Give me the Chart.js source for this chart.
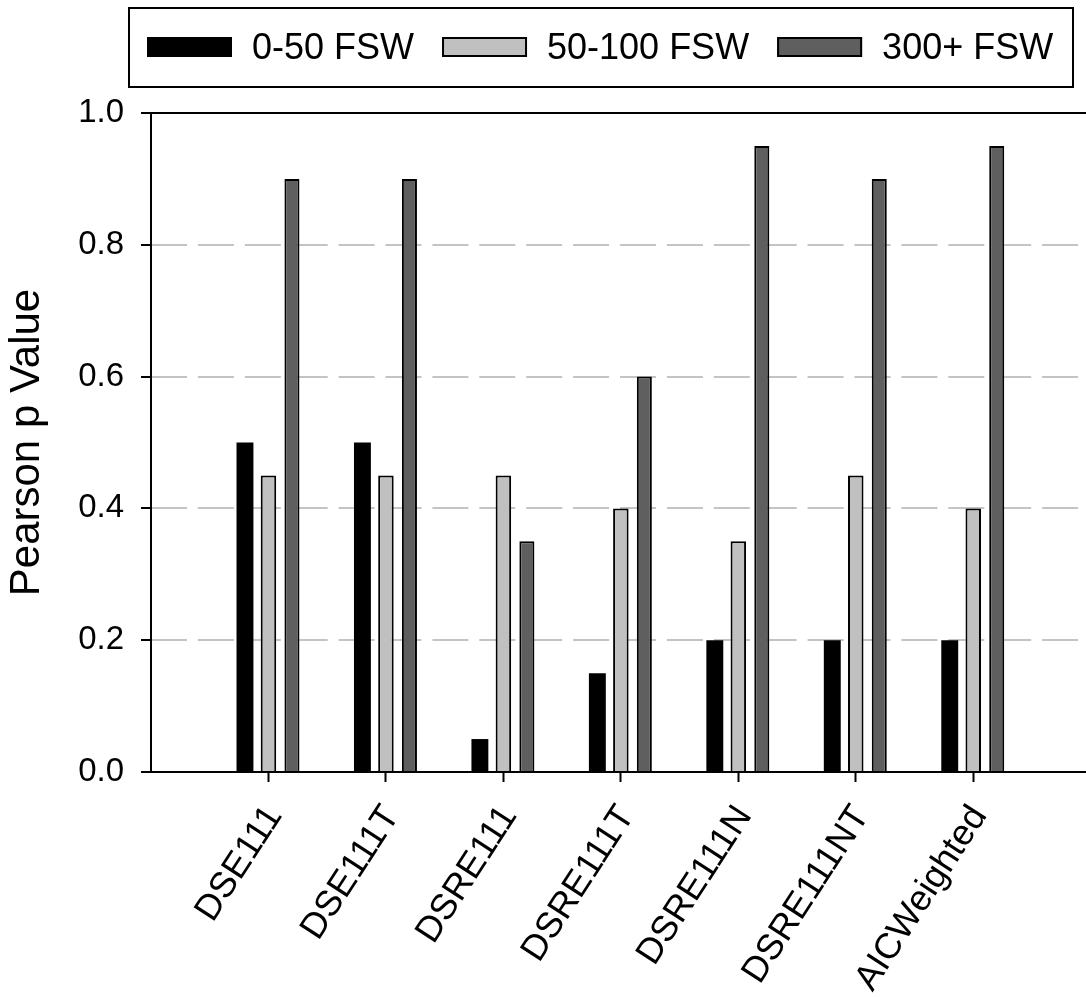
<!DOCTYPE html>
<html>
<head>
<meta charset="utf-8">
<title>Pearson p Value by model</title>
<script src="https://cdn.jsdelivr.net/npm/chart.js@4/dist/chart.umd.min.js"></script>
<style>
  html, body { margin: 0; padding: 0; background: #ffffff; overflow: hidden; }
  canvas { display: block; }
</style>
</head>
<body>
<canvas id="chart" width="1086" height="997"></canvas>
<script>
// Model names along the x axis
const categories = ['DSE111', 'DSE111T', 'DSRE111', 'DSRE111T', 'DSRE111N', 'DSRE111NT', 'AICWeighted'];

// Series names (depth bands)
const seriesLabels = ['0-50 FSW', '50-100 FSW', '300+ FSW'];

// Pearson p values per depth band
const shallowValues = [0.50, 0.50, 0.05, 0.15, 0.20, 0.20, 0.20];
const midValues     = [0.45, 0.45, 0.45, 0.40, 0.35, 0.45, 0.40];
const deepValues    = [0.90, 0.90, 0.35, 0.60, 0.95, 0.90, 0.95];

// Y axis ticks
const yTickValues = [0.0, 0.2, 0.4, 0.6, 0.8, 1.0];

const FONT = '"Liberation Sans", Arial, Helvetica, sans-serif';

// Each category sits at x = 1..n on a linear axis
const toPoints = vals => vals.map((v, i) => ({ x: i + 1, y: v }));

const fills = ['#000000', '#c0c0c0', '#5f5f5f'];

// Axis frame: left axis, top rule and baseline
const framePlugin = {
  id: 'frame',
  afterDatasetsDraw(chart) {
    const { ctx, chartArea: a } = chart;
    ctx.save();
    ctx.strokeStyle = '#000';
    ctx.lineWidth = 2;
    ctx.beginPath();
    ctx.moveTo(a.left, a.top - 1);
    ctx.lineTo(a.left, a.bottom + 1);
    ctx.moveTo(a.left, a.top);
    ctx.lineTo(a.right, a.top);
    ctx.moveTo(a.left, a.bottom);
    ctx.lineTo(a.right, a.bottom);
    ctx.stroke();
    ctx.restore();
  }
};

// Boxed legend across the top
const boxLegendPlugin = {
  id: 'boxLegend',
  afterDraw(chart) {
    const { ctx } = chart;
    ctx.save();
    ctx.lineWidth = 2;
    ctx.strokeStyle = '#000';
    ctx.strokeRect(129, 8, 944, 79);

    ctx.font = '36px ' + FONT;
    ctx.textBaseline = 'alphabetic';
    ctx.fillStyle = '#000';
    let x = 147;
    chart.data.datasets.forEach((ds, i) => {
      ctx.fillStyle = ds.backgroundColor;
      ctx.fillRect(x, 37, 85, 20);
      ctx.lineWidth = 2;
      ctx.strokeStyle = '#000';
      ctx.strokeRect(x + 1, 38, 83, 18);
      const tx = x + 105;
      ctx.fillStyle = '#000';
      ctx.fillText(ds.label, tx, 59);
      x = tx + ctx.measureText(ds.label).width + 28;
    });
    ctx.restore();
  }
};

new Chart(document.getElementById('chart'), {
  type: 'bar',
  data: {
    datasets: [
      { label: seriesLabels[0], data: toPoints(shallowValues), backgroundColor: fills[0],
        borderColor: '#000', borderWidth: 0, barPercentage: 0.72 },
      { label: seriesLabels[1], data: toPoints(midValues), backgroundColor: fills[1],
        borderColor: '#000', borderWidth: 2, barPercentage: 0.66 },
      { label: seriesLabels[2], data: toPoints(deepValues), backgroundColor: fills[2],
        borderColor: '#000', borderWidth: 2, barPercentage: 0.64 }
    ]
  },
  options: {
    responsive: false,
    animation: false,
    devicePixelRatio: 1,
    layout: { padding: { top: 113, left: 0, right: 0, bottom: 0 } },
    datasets: { bar: { categoryPercentage: 0.6 } },
    plugins: {
      legend: { display: false },
      tooltip: { enabled: false }
    },
    scales: {
      x: {
        type: 'linear',
        min: 0,
        max: 7.96,
        offset: false,
        afterBuildTicks(scale) {
          scale.ticks = categories.map((_, i) => ({ value: i + 1 }));
        },
        afterFit(scale) { scale.height = 225; },
        ticks: {
          autoSkip: false,
          minRotation: 57,
          maxRotation: 57,
          padding: 16,
          labelOffset: 6,
          color: '#000',
          font: { family: FONT, size: 36 },
          callback: v => categories[v - 1]
        },
        grid: {
          display: true,
          drawOnChartArea: false,
          drawTicks: true,
          tickLength: 10,
          tickWidth: 2,
          tickColor: '#000',
          offset: false
        },
        border: { display: false }
      },
      y: {
        min: 0,
        max: 1,
        afterBuildTicks(scale) {
          scale.ticks = yTickValues.map(v => ({ value: v }));
        },
        afterFit(scale) { scale.width = 151; },
        ticks: {
          padding: 17,
          color: '#000',
          font: { family: FONT, size: 33 },
          callback: v => Number(v).toFixed(1)
        },
        grid: {
          display: true,
          drawOnChartArea: true,
          lineWidth: 2,
          color: c => {
            const v = c.tick ? c.tick.value : 0;
            return (Math.abs(v) < 1e-9 || Math.abs(v - 1) < 1e-9) ? 'rgba(0,0,0,0)' : '#c4c4c4';
          },
          tickLength: 10,
          tickWidth: 2,
          tickColor: '#000',
          tickBorderDash: []
        },
        border: { display: false, dash: [36, 10.9], dashOffset: 0 },
        title: {
          display: true,
          text: 'Pearson p Value',
          color: '#000',
          font: { family: FONT, size: 42 },
          padding: { top: 2, bottom: 0 }
        }
      }
    }
  },
  plugins: [framePlugin, boxLegendPlugin]
});
</script>
</body>
</html>
